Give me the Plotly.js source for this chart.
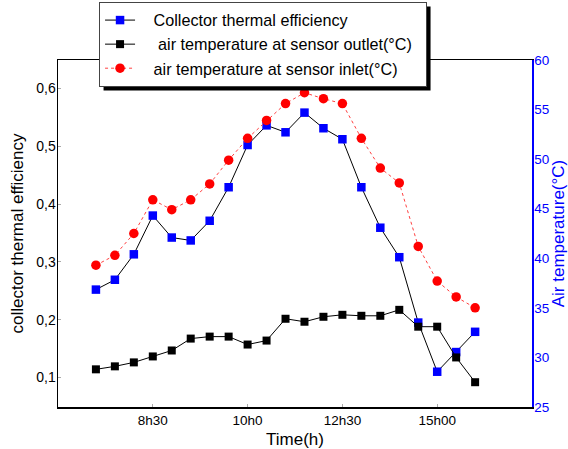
<!DOCTYPE html>
<html>
<head>
<meta charset="utf-8">
<script src="https://cdn.plot.ly/plotly-3.0.1.min.js"></script>
<style>html,body{margin:0;padding:0;background:#fff}#chart{width:568px;height:449px}</style>
</head>
<body>
<div id="chart"></div>
<script>
// x positions (sample index) and tick labels
const timeIndex = [0,1,2,3,4,5,6,7,8,9,10,11,12,13,14,15,16,17,18,19,20];
const tickPositions = [3, 8, 13, 18];
const tickLabels = ["8h30", "10h0", "12h30", "15h00"];

// Collector thermal efficiency (left axis)
const efficiency = [0.252,0.269,0.313,0.380,0.342,0.337,0.371,0.429,0.502,0.536,0.524,
                    0.558,0.531,0.512,0.429,0.359,0.308,0.195,0.110,0.144,0.179];
// Air temperature at sensor outlet (°C, right axis)
const outletTemp = [28.8,29.1,29.5,30.1,30.7,31.9,32.1,32.1,31.3,31.7,33.9,
                    33.6,34.1,34.3,34.2,34.2,34.8,33.1,33.1,30.0,27.5];
// Air temperature at sensor inlet (°C, right axis)
const inletTemp = [39.3,40.3,42.5,45.9,44.9,45.9,47.5,49.9,52.1,53.9,55.6,
                   56.7,56.1,55.6,52.1,49.1,47.6,41.2,37.7,36.1,35.0];

const seriesNames = ["\u00a0\u00a0\u00a0Collector thermal efficiency",
                     "\u00a0\u00a0\u00a0\u00a0air temperature at sensor outlet(°C)\u00a0\u00a0",
                     "\u00a0\u00a0\u00a0air temperature at sensor inlet(°C)"];

const FONT = "Liberation Sans";

const traces = [
  {x: timeIndex, y: efficiency, name: seriesNames[0], type: "scatter", mode: "lines+markers",
   line: {color: "#000", width: 1}, marker: {symbol: "square", size: 8.5, color: "#0000ff"}, yaxis: "y"},
  {x: timeIndex, y: outletTemp, name: seriesNames[1], type: "scatter", mode: "lines+markers",
   line: {color: "#000", width: 1}, marker: {symbol: "square", size: 8, color: "#000"}, yaxis: "y2"},
  {x: timeIndex, y: inletTemp, name: seriesNames[2], type: "scatter", mode: "lines+markers",
   line: {color: "#ff4040", width: 1, dash: "3px,3px"}, marker: {symbol: "circle", size: 9.5, color: "#ff0000"}, yaxis: "y2"}
];

const layout = {
  width: 568, height: 449,
  margin: {l: 58, r: 36, t: 60, b: 42, pad: 0, autoexpand: false},
  paper_bgcolor: "#fff", plot_bgcolor: "#fff",
  separators: ", ",
  font: {family: FONT, size: 13, color: "#000"},
  showlegend: true,
  legend: {x: 0.0866, y: 1.167, xanchor: "left", yanchor: "top",
           bgcolor: "#fff", bordercolor: "#444", borderwidth: 1,
           font: {family: FONT, size: 16.2, color: "#000"}, tracegroupgap: 0},
  xaxis: {range: [-2, 23], showgrid: false, zeroline: false, automargin: false,
          tickmode: "array", tickvals: tickPositions, ticktext: tickLabels,
          ticks: "inside", ticklen: 3, tickcolor: "#aaa",
          showline: true, linecolor: "#000", linewidth: 1.5, mirror: true,
          title: {text: "Time(h)", font: {family: FONT, size: 17}, standoff: 6},
          tickfont: {family: FONT, size: 13.5}},
  yaxis: {range: [0.049, 0.649], showgrid: false, zeroline: false, automargin: false,
          tickvals: [0.1, 0.2, 0.3, 0.4, 0.5, 0.6], tickformat: ".1f",
          ticks: "inside", ticklen: 3, tickcolor: "#aaa", ticklabelstandoff: -2,
          showline: true, linecolor: "#000", linewidth: 1.5,
          title: {text: "collector thermal efficiency", font: {family: FONT, size: 17}, standoff: 8},
          tickfont: {family: FONT, size: 14}},
  yaxis2: {range: [25, 60], overlaying: "y", side: "right", showgrid: false, zeroline: false, automargin: false,
           tickvals: [25, 30, 35, 40, 45, 50, 55, 60], ticklabelstandoff: -2,
           ticks: "", showline: true, linecolor: "#0000ff", linewidth: 1.5,
           tickfont: {family: FONT, size: 13.5, color: "#0000ff"},
           title: {text: "Air temperature(°C)", font: {family: FONT, size: 17, color: "#0000ff"}, standoff: 8}},
  shapes: []
};

Plotly.newPlot("chart", traces, layout, {displayModeBar: false, staticPlot: true}).then(function (gd) {
  // add a drop shadow behind the legend box, sized from the drawn legend
  const bg = gd.querySelector(".legend .bg");
  if (!bg) return;
  const r = bg.getBoundingClientRect();
  const c = gd.getBoundingClientRect();
  const fs = gd._fullLayout._size;
  const toX = px => (px - c.left - fs.l) / fs.w;
  const toY = py => 1 - (py - c.top - fs.t) / fs.h;
  const off = 4;
  return Plotly.relayout(gd, {shapes: [{
    type: "rect", xref: "paper", yref: "paper", layer: "above",
    x0: toX(r.left + off), x1: toX(r.right + off),
    y0: toY(r.bottom + off), y1: toY(r.top + off),
    fillcolor: "#000", line: {width: 0}
  }]});
});
</script>
</body>
</html>
